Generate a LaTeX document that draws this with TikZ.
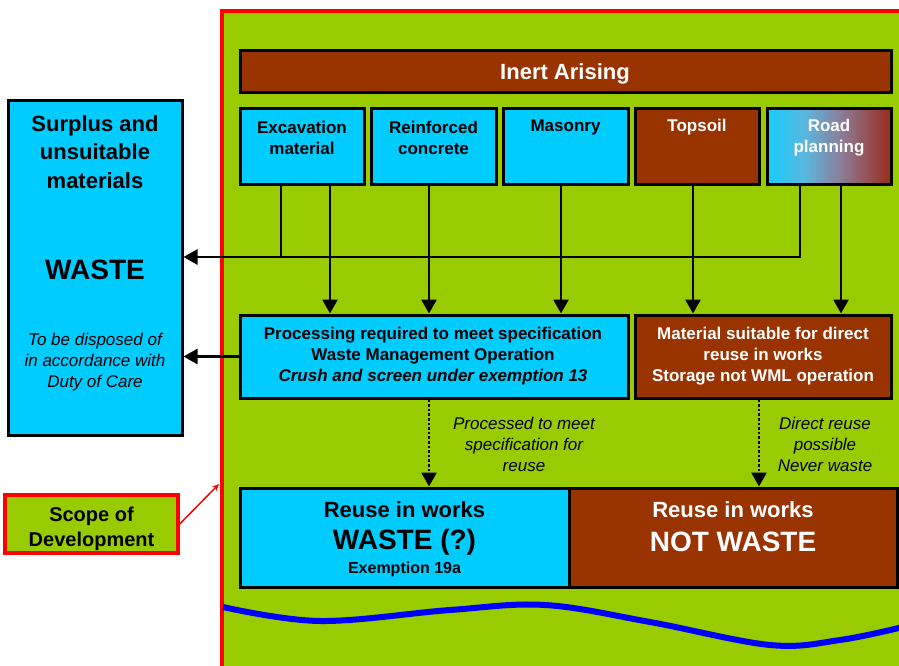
\documentclass[tikz,border=0pt]{standalone}
\usepackage{fontspec}
\setmainfont{Liberation Sans}
\usetikzlibrary{arrows.meta}
\definecolor{cyanC}{HTML}{00CCFF}
\definecolor{brownC}{HTML}{993300}
\definecolor{greenC}{HTML}{99CC00}
\definecolor{redC}{HTML}{FF0000}
\definecolor{blueC}{HTML}{0000FF}
\definecolor{roadA}{HTML}{1EC8F8}
\definecolor{roadB}{HTML}{5AB8E0}
\definecolor{roadC}{HTML}{8C7C96}
\definecolor{roadD}{HTML}{993326}
\pgfdeclarehorizontalshading{roadshade}{100bp}{color(0bp)=(roadA); color(27bp)=(roadA); color(40bp)=(roadB); color(55bp)=(roadC); color(73bp)=(roadD); color(100bp)=(roadD)}
\tikzset{
  box/.style={draw=black, line width=3pt, inner sep=0pt},
  cbox/.style={box, fill=cyanC},
  bbox/.style={box, fill=brownC},
  tb/.style={font=\bfseries\fontsize{17}{21}\selectfont, align=center, inner sep=0pt},
  ti/.style={font=\itshape\fontsize{17}{21}\selectfont, align=center, inner sep=0pt},
  conn/.style={line width=2.7pt},
  arr/.style={line width=2.7pt, -{Triangle[width=15pt,length=14pt]}},
  darr/.style={line width=2.6pt, dotted, -{Triangle[width=15pt,length=14pt]}},
}
\begin{document}
\begin{tikzpicture}[x=1pt,y=-1pt]
\useasboundingbox (0,0) rectangle (899,666);
% scope of development region
\fill[greenC] (222,11) rectangle (905,670);
\draw[redC, line width=3.5pt] (222,672) -- (222,11) -- (905,11);
% river
\draw[blueC, line width=6pt] plot[smooth, tension=0.6] coordinates {(223,607) (320,621) (450,610) (545,605) (650,622) (770,645) (840,640) (903,627)};
% boxes
\node[bbox, minimum width=651pt, minimum height=42pt] (inert) at (565.5,72) {};
\node[cbox, minimum width=124pt, minimum height=75pt] (exc) at (302,146.5) {};
\node[cbox, minimum width=125pt, minimum height=75pt] (rc) at (433.5,146.5) {};
\node[cbox, minimum width=125pt, minimum height=75pt] (mas) at (565.5,146.5) {};
\node[bbox, minimum width=124pt, minimum height=75pt] (top) at (697,146.5) {};
\node[box, shading=roadshade, minimum width=124pt, minimum height=75pt] (road) at (829,146.5) {};
\node[cbox, minimum width=174pt, minimum height=334pt] (surp) at (95,268) {};
\node[cbox, minimum width=388pt, minimum height=83pt] (proc) at (434,356.5) {};
\node[bbox, minimum width=256pt, minimum height=83pt] (mat) at (763,356.5) {};
\node[cbox, minimum width=329pt, minimum height=99pt] (reuseL) at (404.5,537.5) {};
\node[bbox, minimum width=328pt, minimum height=99pt] (reuseR) at (733,537.5) {};
\node[box, draw=redC, line width=3.5pt, fill=greenC, minimum width=173pt, minimum height=58pt] (scope) at (91.5,524) {};
% texts
\node[tb, text=white, font=\bfseries\fontsize{22}{26}\selectfont] (tinert) at (565,74) {Inert Arising};
\node[tb] (texc) at (302,138) {Excavation\\material};
\node[tb] (trc) at (433.5,138) {Reinforced\\concrete};
\node[tb] (tmas) at (565.5,127.5) {Masonry};
\node[tb, text=white] (ttop) at (697,127.5) {Topsoil};
\node[tb, text=white] (troad) at (829,138) {Road\\planning};
\node[tb, font=\bfseries\fontsize{22}{28.5}\selectfont] (tsurp) at (95,152) {Surplus and\\unsuitable\\materials};
\node[tb, font=\bfseries\fontsize{28}{30}\selectfont] (twaste) at (95,270) {WASTE};
\node[ti] (tdisp) at (95,362) {To be disposed of\\in accordance with\\Duty of Care};
\node[tb, align=center] (tproc) at (433,356) {Processing required to meet specification\\Waste Management Operation\\\textit{Crush and screen under exemption 13}};
\node[tb, text=white] (tmat) at (763,356) {Material suitable for direct\\reuse in works\\Storage not WML operation};
\node[ti] (tpr) at (524,444) {Processed to meet\\specification for\\reuse};
\node[ti] (tdr) at (825,444) {Direct reuse\\possible\\Never waste};
\node[tb, font=\bfseries\fontsize{22}{26}\selectfont] (tl1) at (404.5,510) {Reuse in works};
\node[tb, font=\bfseries\fontsize{28}{30}\selectfont] (tl2) at (404.5,542) {WASTE (?)};
\node[tb, font=\bfseries\fontsize{16}{20}\selectfont] (tl3) at (404.5,569) {Exemption 19a};
\node[tb, text=white, font=\bfseries\fontsize{22}{26}\selectfont] (tr1) at (733,510) {Reuse in works};
\node[tb, text=white, font=\bfseries\fontsize{28}{30}\selectfont] (tr2) at (733,542) {NOT WASTE};
\node[tb, font=\bfseries\fontsize{20}{25}\selectfont] (tscope) at (91.5,529) {Scope of\\Development};
% connector coordinates
\coordinate (jA) at (281,257);
\coordinate (jB) at (800,257);
\coordinate (x330) at (330,0);
\coordinate (x429) at (429,0);
\coordinate (x561) at (561,0);
\coordinate (x693) at (693,0);
\coordinate (x841) at (841,0);
\coordinate (x759) at (759,0);
\coordinate (edgeR) at (219,484);
% connectors
\draw[conn] (exc.south -| jA) -- (jA);
\draw[arr] (road.south -| jB) -- (jB) -- (surp.east |- jB);
\draw[arr] (exc.south -| x330) -- (proc.north -| x330);
\draw[arr] (rc.south -| x429) -- (proc.north -| x429);
\draw[arr] (mas.south -| x561) -- (proc.north -| x561);
\draw[arr] (top.south -| x693) -- (mat.north -| x693);
\draw[arr] (road.south -| x841) -- (mat.north -| x841);
\draw[arr] (proc.west) -- (surp.east |- proc.west);
\draw[darr] (proc.south -| x429) -- (reuseL.north -| x429);
\draw[darr] (mat.south -| x759) -- (reuseR.north -| x759);
\draw[redC, line width=1.5pt, -{Stealth[length=7pt,width=6pt]}] (scope.east) -- (edgeR);
\end{tikzpicture}
\end{document}
